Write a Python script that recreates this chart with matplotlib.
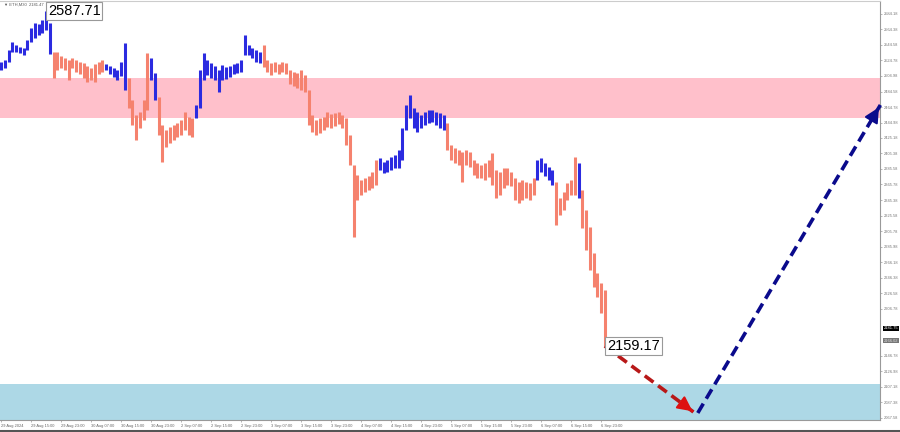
import matplotlib.pyplot as plt
from matplotlib.lines import Line2D

plt.rcParams['font.family'] = ['Liberation Sans', 'DejaVu Sans']

# ETHUSD M30, una barra por hora (maximo / minimo)
highs = [2522.4, 2525.0, 2537.8, 2548.0, 2544.1, 2541.6, 2540.3, 2550.5, 2565.9, 2572.3,
         2571.0, 2576.1, 2587.71, 2572.3, 2535.2, 2535.2, 2530.1, 2527.5, 2525.0, 2527.5,
         2525.0, 2522.4, 2521.1, 2517.3, 2514.7, 2519.8, 2522.4, 2525.0, 2519.8, 2517.3,
         2514.7, 2512.2, 2522.4, 2546.7, 2501.9, 2473.8, 2454.6, 2458.4, 2473.8, 2533.9,
         2527.5, 2508.3, 2477.6, 2441.8, 2435.4, 2439.2, 2441.8, 2444.4, 2448.2, 2458.4,
         2452.1, 2450.8, 2467.4, 2512.2, 2533.9, 2525.0, 2521.1, 2517.3, 2512.2, 2518.6,
         2516.0, 2517.3, 2519.8, 2521.1, 2525.0, 2556.9, 2544.1, 2540.3, 2537.8, 2535.2,
         2544.1, 2525.0, 2521.1, 2522.4, 2519.8, 2522.4, 2521.1, 2512.2, 2509.6, 2508.3,
         2512.2, 2505.8, 2486.6, 2454.6, 2448.2, 2450.8, 2452.1, 2458.4, 2455.9, 2457.2,
         2458.4, 2454.6, 2450.8, 2429.0, 2390.7, 2377.9, 2371.5, 2374.0, 2376.6, 2381.7,
         2397.1, 2399.6, 2394.5, 2397.1, 2400.9, 2403.5, 2409.9, 2438.0, 2467.4, 2480.2,
         2463.6, 2458.4, 2454.6, 2458.4, 2461.0, 2461.0, 2458.4, 2457.2, 2454.6, 2444.4,
         2416.2, 2412.4, 2409.9, 2407.6, 2409.9, 2407.6, 2397.1, 2393.2, 2390.7, 2393.2,
         2397.1, 2406.0, 2384.3, 2381.7, 2386.8, 2386.8, 2381.7, 2374.0, 2368.9, 2371.5,
         2368.9, 2367.6, 2374.0, 2397.1, 2399.6, 2393.2, 2388.1, 2384.3, 2368.9, 2348.4,
         2356.1, 2367.6, 2371.5, 2400.9, 2393.2, 2358.7, 2333.1, 2311.4, 2278.1, 2252.5,
         2239.7, 2230.8]
lows = [2512.2, 2514.7, 2522.4, 2535.2, 2535.2, 2533.9, 2531.4, 2537.8, 2548.0, 2553.1,
        2556.9, 2559.5, 2563.3, 2532.6, 2501.9, 2512.2, 2514.7, 2512.2, 2499.4, 2514.7,
        2509.6, 2507.1, 2501.9, 2496.8, 2499.4, 2496.8, 2507.1, 2509.6, 2512.2, 2507.1,
        2503.2, 2499.4, 2504.5, 2486.6, 2463.6, 2441.8, 2422.6, 2438.0, 2448.2, 2461.0,
        2499.4, 2473.8, 2429.0, 2394.5, 2413.7, 2418.8, 2422.6, 2426.5, 2429.0, 2435.4,
        2429.0, 2426.5, 2450.8, 2463.6, 2499.4, 2505.8, 2501.9, 2499.4, 2484.0, 2499.4,
        2500.7, 2503.2, 2507.1, 2508.3, 2509.6, 2531.4, 2531.4, 2527.5, 2522.4, 2521.1,
        2516.0, 2509.6, 2505.8, 2509.6, 2507.1, 2509.6, 2507.1, 2494.3, 2491.7, 2489.2,
        2486.6, 2484.0, 2441.8, 2432.9, 2429.0, 2431.6, 2435.4, 2439.2, 2438.0, 2440.5,
        2443.1, 2438.0, 2416.2, 2390.7, 2298.6, 2345.9, 2352.3, 2356.1, 2358.7, 2361.2,
        2365.1, 2384.3, 2380.4, 2381.7, 2384.3, 2386.8, 2386.8, 2397.1, 2435.4, 2450.8,
        2438.0, 2432.9, 2438.0, 2441.8, 2444.4, 2445.7, 2441.8, 2438.0, 2435.4, 2409.9,
        2397.1, 2393.2, 2390.7, 2368.9, 2390.7, 2388.1, 2377.9, 2374.0, 2374.0, 2371.5,
        2375.3, 2365.1, 2348.4, 2352.3, 2361.2, 2365.1, 2363.8, 2345.9, 2342.1, 2345.9,
        2348.4, 2345.9, 2352.3, 2371.5, 2381.7, 2376.6, 2371.5, 2365.1, 2314.0, 2326.7,
        2333.1, 2345.9, 2352.3, 2352.3, 2348.4, 2310.1, 2282.0, 2256.4, 2234.6, 2221.8,
        2201.4, 2159.17]

# Ondas (color de las barras)
wave_dirs = ['up', 'down', 'up', 'down', 'up', 'down', 'up', 'down', 'up', 'down',
             'up', 'down', 'up', 'down']
wave_lens = [14, 14, 6, 6, 2, 10, 18, 31, 18, 24, 5, 6, 1, 7]

time_labels = ['29 Aug 2024', '29 Aug 15:00', '29 Aug 23:00', '30 Aug 07:00', '30 Aug 15:00',
               '30 Aug 23:00', '2 Sep 07:00', '2 Sep 15:00', '2 Sep 23:00', '3 Sep 07:00',
               '3 Sep 15:00', '3 Sep 23:00', '4 Sep 07:00', '4 Sep 15:00', '4 Sep 23:00',
               '5 Sep 07:00', '5 Sep 15:00', '5 Sep 23:00', '6 Sep 07:00', '6 Sep 15:00',
               '6 Sep 23:00']
price_labels = ['2584.18', '2564.38', '2544.58', '2524.78', '2504.98', '2484.58', '2464.78',
                '2444.98', '2425.18', '2405.38', '2385.58', '2365.78', '2345.38', '2325.58',
                '2305.78', '2285.98', '2266.18', '2246.38', '2226.58', '2206.78', '2146.78',
                '2126.98', '2107.18', '2087.38', '2067.58']

zona_resistencia = (2450.4, 2501.5)
zona_soporte = (2040.0, 2110.2)

# Pronostico: indice de barra (horas) y precio
pron_x = [161, 185, 234.5]
pron_y = [2159.17, 2073.5, 2467.4]

max_label = 2587.71
min_label = 2159.17
bid = 2181.75
otro_precio = 2166.02
titulo = '\u25bc ETH,M30  2181.47'

colores = {'up': '#2b2be0', 'down': '#f5826e'}

fig = plt.figure(figsize=(9, 4.32), dpi=100)
ax = fig.add_axes([0, 12 / 432, 880 / 900, 419 / 432])
ax.set_xlim(-0.3, 234.4)
ax.set_ylim(2064.5, 2600.4)

# Zonas
ax.axhspan(*zona_resistencia, color='#ffc0cb', lw=0, zorder=0)
ax.axhspan(*zona_soporte, color='#add8e6', lw=0, zorder=0)

# Barras
bar_colors = []
for d, n in zip(wave_dirs, wave_lens):
    bar_colors += [colores[d]] * n
xs = list(range(len(highs)))
ax.vlines(xs, lows, highs, colors=bar_colors, lw=2.2, zorder=2)

# Flechas del pronostico
def flecha(x0, y0, x1, y1, color, color_punta):
    ax.plot([x0, x1], [y0, y1], color=color, lw=2.6, ls=(0, (3, 1.6)), zorder=4,
            solid_capstyle='butt', clip_on=False)
    ax.annotate('', xy=(x1, y1), xytext=(x1 - (x1 - x0) * 0.05, y1 - (y1 - y0) * 0.05),
                arrowprops=dict(arrowstyle='-|>,head_length=0.9,head_width=0.45',
                                color=color_punta, lw=1.5), zorder=5, annotation_clip=False)

flecha(pron_x[0], pron_y[0], pron_x[1], pron_y[1], '#b81818', '#dd1010')
flecha(pron_x[1] + 0.8, pron_y[1], pron_x[2], pron_y[2], '#0a0a8c', '#0a0a8c')

# Etiquetas de precio
ax.text(12.5, max_label, f'{max_label:.2f}', ha='left', va='center', fontsize=10.5,
        color='black', zorder=6,
        bbox=dict(boxstyle='square,pad=0.12', fc='white', ec='#999999', lw=0.8))
ax.text(161.6, min_label, f'{min_label:.2f}', ha='left', va='center', fontsize=10.5,
        color='black', zorder=6,
        bbox=dict(boxstyle='square,pad=0.12', fc='white', ec='#999999', lw=0.8))
ax.text(0.004, 0.996, titulo, transform=ax.transAxes, ha='left', va='top', fontsize=3.0,
        color='#555555', zorder=5)

# Ejes
ax.spines['left'].set_visible(False)
ax.spines['top'].set_color('#cccccc')
ax.spines['right'].set_color('#999999')
ax.spines['bottom'].set_color('#999999')
for s in ['top', 'right', 'bottom']:
    ax.spines[s].set_linewidth(0.8)

ax.set_xticks(range(0, 8 * len(time_labels), 8))
ax.set_xticklabels(time_labels, fontsize=2.9, color='#666666', ha='left')
ax.tick_params(axis='x', length=1.5, width=0.5, color='#999999', pad=1.5)

ax.yaxis.tick_right()
ax.set_yticks([float(p) for p in price_labels])
ax.set_yticklabels(price_labels, fontsize=2.9, color='#777777')
ax.tick_params(axis='y', length=1.5, width=0.5, color='#999999', pad=1)

tr = ax.get_yaxis_transform()
ax.text(1.004, bid, f'{bid:.2f}', transform=tr, ha='left', va='center', fontsize=2.9,
        color='white', bbox=dict(boxstyle='square,pad=0.2', fc='black', ec='none'),
        clip_on=False)
ax.text(1.004, otro_precio, f'{otro_precio:.2f}', transform=tr, ha='left', va='center',
        fontsize=2.9, color='#dddddd', bbox=dict(boxstyle='square,pad=0.2', fc='#777777',
                                                 ec='none'), clip_on=False)

# Borde inferior de la ventana
fig.add_artist(Line2D([0, 1], [1.2 / 432, 1.2 / 432], color='#555555', lw=2.2))

plt.savefig('out.png', dpi=100)
